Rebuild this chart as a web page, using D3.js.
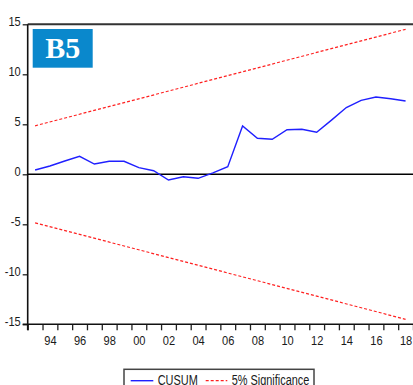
<!DOCTYPE html>
<html>
<head>
<meta charset="utf-8">
<script src="https://cdn.jsdelivr.net/npm/d3@7"></script>
<style>
  body { margin: 0; background: #fff; }
  svg { display: block; }
  .axis text { font-family: "Liberation Sans", Arial, sans-serif; font-size: 13.5px; fill: #1a1a1a; }
</style>
</head>
<body>
<div id="chart"></div>
<script>
// data
var years = [1993, 1994, 1995, 1996, 1997, 1998, 1999, 2000, 2001, 2002, 2003, 2004, 2005,
             2006, 2007, 2008, 2009, 2010, 2011, 2012, 2013, 2014, 2015, 2016, 2017, 2018];
var cusum = [0.43, 0.83, 1.33, 1.8, 1.03, 1.3, 1.3, 0.66, 0.36, -0.57, -0.24, -0.4, 0.15,
             0.76, 4.83, 3.6, 3.5, 4.46, 4.5, 4.2, 5.42, 6.68, 7.4, 7.73, 7.56, 7.33];
var sigYears = [1993, 2018];
var sigUpper = [4.85, 14.5];
var sigLower = [-4.85, -14.5];
var yTicks = [-15, -10, -5, 0, 5, 10, 15];
var xLabelYears = [1994, 1996, 1998, 2000, 2002, 2004, 2006, 2008, 2010, 2012, 2014, 2016, 2018];
var seriesNames = ["CUSUM", "5% Significance"];
var panelLabel = "B5";

var W = 413, H = 385;
var pLeft = 27.7, pRight = 413, pTop = 24.3, pBottom = 324.3;

var svg = d3.select("#chart").append("svg").attr("width", W).attr("height", H);

var x = d3.scaleLinear().domain([years[0] - 0.5, years[years.length - 1] + 0.5]).range([pLeft, pRight]);
var y = d3.scaleLinear().domain([-15, 15]).range([pBottom, pTop]);

// squeeze text horizontally to mimic a narrow font
function narrow(sel, k) {
  sel.each(function () {
    var w = this.getComputedTextLength();
    d3.select(this).attr("textLength", w * (k || 0.82)).attr("lengthAdjust", "spacingAndGlyphs");
  });
}

// x axis: ticks on year boundaries, labels on even years
var bounds = years.concat([years[years.length - 1] + 1]).map(function (d) { return d - 0.5; });
svg.append("g").attr("class", "axis")
  .attr("transform", "translate(0," + pBottom + ")")
  .call(d3.axisBottom(x).tickValues(bounds).tickSize(6).tickSizeOuter(0).tickFormat(""))
  .call(function (g) {
    g.select(".domain").remove();
    g.selectAll(".tick line").attr("stroke", "#222").attr("stroke-width", 1.3);
  });

svg.append("g").attr("class", "axis")
  .attr("transform", "translate(0," + pBottom + ")")
  .call(d3.axisBottom(x).tickValues(xLabelYears).tickSize(0).tickPadding(11)
    .tickFormat(function (d) { return String(d).slice(2); }))
  .call(function (g) {
    g.select(".domain").remove();
    narrow(g.selectAll(".tick text"));
  });

// y axis
svg.append("g").attr("class", "axis")
  .attr("transform", "translate(" + pLeft + ",0)")
  .call(d3.axisLeft(y).tickValues(yTicks).tickSize(5).tickPadding(2).tickSizeOuter(0))
  .call(function (g) {
    g.select(".domain").remove();
    g.selectAll(".tick line").attr("stroke", "#222").attr("stroke-width", 1.3);
    g.selectAll(".tick text").attr("dy", "0.09em").text(function (d) { return String(d); });
    narrow(g.selectAll(".tick text"));
  });

// frame lines
svg.append("line").attr("x1", pLeft).attr("x2", pRight).attr("y1", pTop).attr("y2", pTop)
  .attr("stroke", "#333").attr("stroke-width", 2);
svg.append("line").attr("x1", pLeft - 5).attr("x2", pRight).attr("y1", pBottom).attr("y2", pBottom)
  .attr("stroke", "#111").attr("stroke-width", 1.6);
svg.append("line").attr("x1", pLeft).attr("x2", pLeft).attr("y1", pTop).attr("y2", pBottom + 6)
  .attr("stroke", "#111").attr("stroke-width", 1.6);
svg.append("line").attr("x1", pLeft).attr("x2", pRight).attr("y1", y(0)).attr("y2", y(0))
  .attr("stroke", "#000").attr("stroke-width", 1.6);

// significance bounds
var line = d3.line().x(function (d) { return x(d[0]); }).y(function (d) { return y(d[1]); });
[sigUpper, sigLower].forEach(function (arr) {
  svg.append("path")
    .datum(sigYears.map(function (yr, i) { return [yr, arr[i]]; }))
    .attr("d", line)
    .attr("fill", "none").attr("stroke", "#ff2020").attr("stroke-width", 1.2)
    .attr("stroke-dasharray", "3,2");
});

// cusum
svg.append("path")
  .datum(years.map(function (yr, i) { return [yr, cusum[i]]; }))
  .attr("d", line)
  .attr("fill", "none").attr("stroke", "#2020ff").attr("stroke-width", 1.4);

// panel label
svg.append("rect").attr("x", 32.7).attr("y", 29).attr("width", 60).attr("height", 38.7)
  .attr("fill", "#0a88cc");
svg.append("text").attr("x", 62.7).attr("y", 58.3).attr("text-anchor", "middle")
  .attr("font-family", "Liberation Serif, Times New Roman, serif").attr("font-weight", "bold")
  .attr("font-size", 30).attr("fill", "#fff").text(panelLabel);

// legend
var lg = svg.append("g");
lg.append("rect").attr("x", 124).attr("y", 369.3).attr("width", 190).attr("height", 30)
  .attr("fill", "#fff").attr("stroke", "#444").attr("stroke-width", 1.5);
lg.append("line").attr("x1", 130.7).attr("x2", 153.3).attr("y1", 380.7).attr("y2", 380.7)
  .attr("stroke", "#2020ff").attr("stroke-width", 1.4);
lg.append("line").attr("x1", 205.7).attr("x2", 227.3).attr("y1", 380.7).attr("y2", 380.7)
  .attr("stroke", "#ff2020").attr("stroke-width", 1.2).attr("stroke-dasharray", "3,2");
lg.selectAll("text.leg").data(seriesNames).enter().append("text")
  .attr("class", "leg")
  .attr("x", function (d, i) { return i === 0 ? 157.7 : 231.7; })
  .attr("y", 385)
  .attr("font-family", "Liberation Sans, Arial, sans-serif")
  .attr("font-size", 14).attr("fill", "#1a1a1a")
  .text(function (d) { return d; })
  .call(narrow, 0.78);
</script>
</body>
</html>
